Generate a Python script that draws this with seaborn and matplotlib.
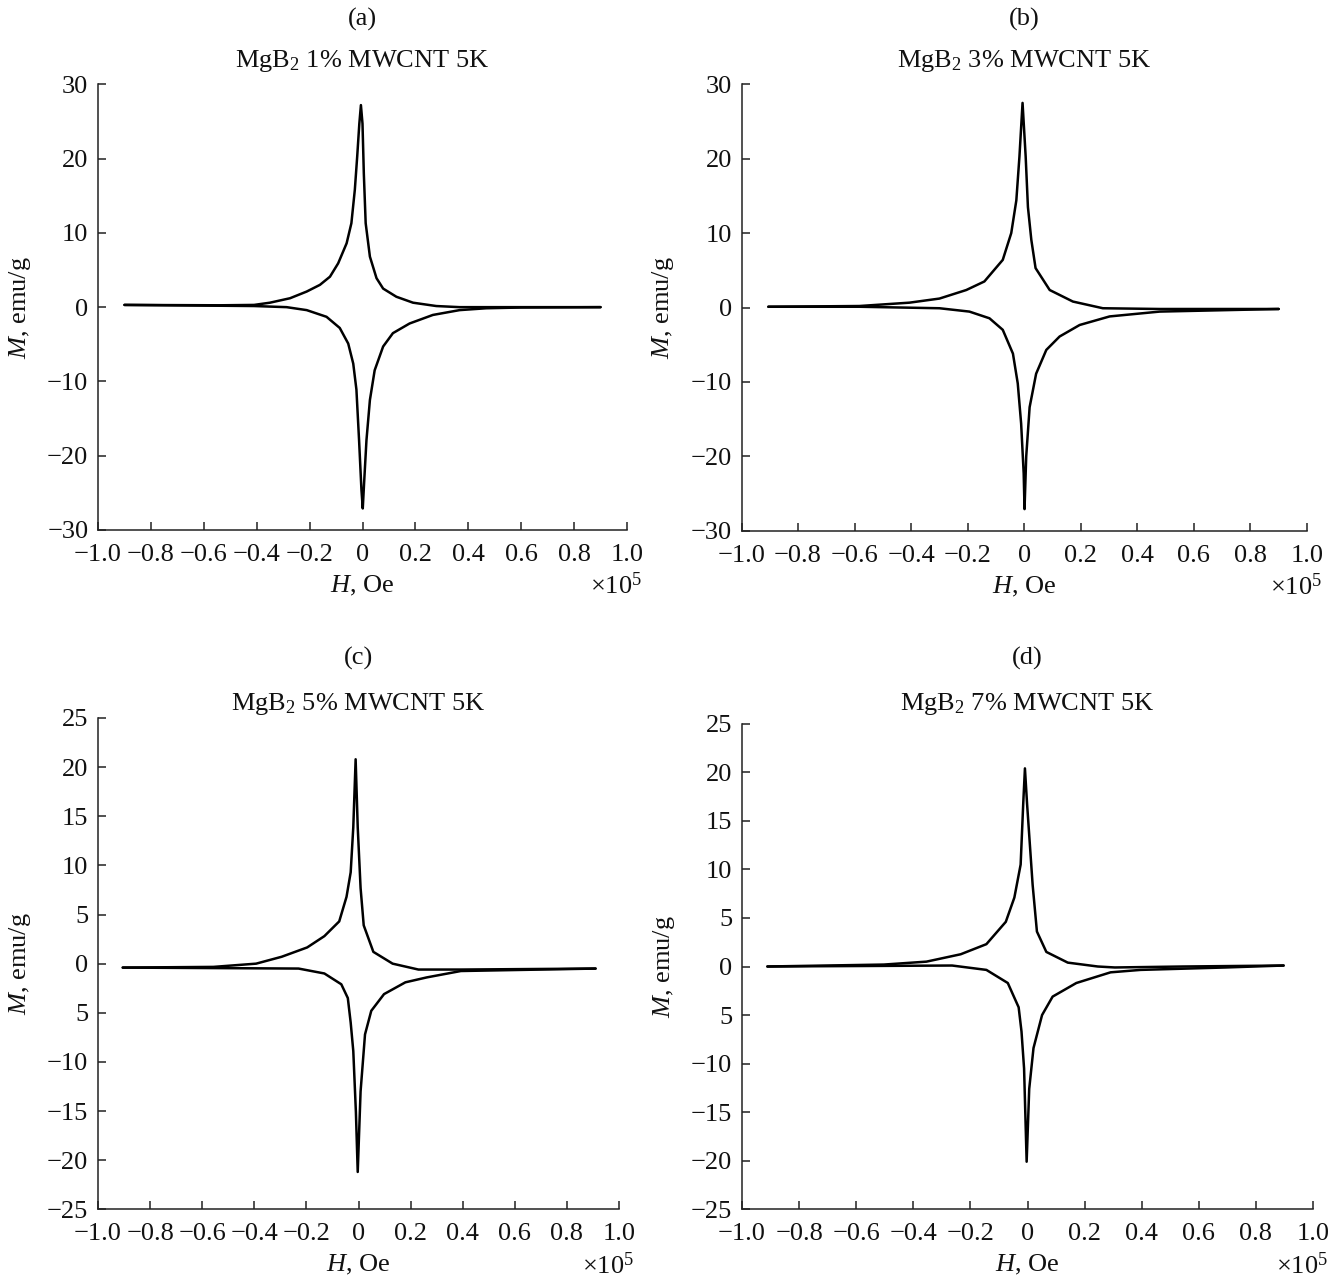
import numpy as np
import pandas as pd
import matplotlib
matplotlib.use("Agg")
import matplotlib.pyplot as plt
import seaborn as sns

# H in units of 1e5 Oe, M in emu/g
# (a) MgB2 1% MWCNT
H_a_up = [-0.90, -0.54, -0.41, -0.35, -0.274, -0.211, -0.161, -0.123, -0.092, -0.060, -0.042,
          -0.029, -0.020, -0.012, -0.006, 0.0, 0.005, 0.012, 0.028, 0.053, 0.078, 0.128,
          0.191, 0.279, 0.367, 0.52, 0.90]
M_a_up = [0.3, 0.25, 0.3, 0.6, 1.2, 2.1, 3.0, 4.1, 5.9, 8.6, 11.3,
          15.8, 20.3, 24.7, 27.2, 24.7, 18.0, 11.3, 6.8, 3.9, 2.5, 1.4,
          0.6, 0.15, 0.0, 0.0, 0.0]
H_a_dn = [0.90, 0.60, 0.468, 0.367, 0.266, 0.178, 0.115, 0.078, 0.046, 0.028, 0.015, 0.006,
          0.001, -0.004, -0.013, -0.023, -0.035, -0.054, -0.086, -0.136, -0.211, -0.287,
          -0.41, -0.90]
M_a_dn = [0.0, -0.05, -0.15, -0.4, -1.05, -2.2, -3.5, -5.3, -8.5, -12.5, -17.9, -23.7,
          -27.1, -24.6, -17.9, -11.1, -7.6, -4.9, -2.8, -1.3, -0.4, 0.0,
          0.15, 0.3]

# (b) MgB2 3% MWCNT
H_b_up = [-0.905, -0.583, -0.406, -0.30, -0.205, -0.141, -0.076, -0.046, -0.028, -0.017,
          -0.006, 0.005, 0.013, 0.025, 0.040, 0.090, 0.172, 0.278, 0.479, 0.90]
M_b_up = [0.1, 0.2, 0.65, 1.2, 2.35, 3.5, 6.4, 10.0, 14.4, 20.3,
          27.5, 20.3, 13.5, 9.1, 5.3, 2.35, 0.8, -0.1, -0.2, -0.2]
H_b_dn = [0.90, 0.479, 0.302, 0.196, 0.125, 0.078, 0.042, 0.019, 0.007, 0.001, -0.002,
          -0.011, -0.023, -0.040, -0.076, -0.123, -0.194, -0.30, -0.583, -0.905]
M_b_dn = [-0.2, -0.55, -1.2, -2.35, -3.9, -5.7, -8.9, -13.4, -20.0, -27.1, -22.3,
          -15.6, -10.2, -6.2, -3.0, -1.45, -0.55, -0.1, 0.1, 0.1]

# (c) MgB2 5% MWCNT
H_c_up = [-0.905, -0.557, -0.393, -0.295, -0.197, -0.131, -0.074, -0.046, -0.030, -0.020,
          -0.011, -0.003, 0.008, 0.020, 0.057, 0.131, 0.23, 0.393, 0.91]
M_c_up = [-0.4, -0.33, 0.0, 0.7, 1.65, 2.8, 4.3, 6.8, 9.3, 13.9,
          20.8, 13.9, 7.7, 3.9, 1.2, 0.0, -0.6, -0.6, -0.5]
H_c_dn = [0.91, 0.393, 0.262, 0.18, 0.098, 0.049, 0.025, 0.008, -0.003, -0.010, -0.020,
          -0.030, -0.041, -0.066, -0.131, -0.23, -0.905]
M_c_dn = [-0.5, -0.75, -1.4, -1.9, -3.1, -4.8, -7.2, -13.0, -21.2, -15.1, -8.9,
          -6.0, -3.5, -2.1, -1.0, -0.5, -0.4]

# (d) MgB2 7% MWCNT
H_d_up = [-0.911, -0.503, -0.354, -0.234, -0.144, -0.076, -0.046, -0.024, -0.015, -0.009,
          -0.0015, 0.018, 0.033, 0.066, 0.141, 0.246, 0.306, 0.545, 0.897]
M_d_up = [0.0, 0.2, 0.5, 1.26, 2.3, 4.6, 7.1, 10.5, 16.75, 20.4,
          16.75, 8.4, 3.6, 1.5, 0.4, 0.0, -0.1, 0.0, 0.1]
H_d_dn = [0.897, 0.695, 0.396, 0.291, 0.171, 0.088, 0.051, 0.021, 0.006, -0.003, -0.012,
          -0.021, -0.031, -0.069, -0.144, -0.264, -0.911]
M_d_dn = [0.1, -0.1, -0.35, -0.6, -1.7, -3.1, -5.0, -8.4, -12.6, -20.1, -10.5,
          -6.7, -4.2, -1.7, -0.35, 0.1, 0.0]

panel_tags = ["(a)", "(b)", "(c)", "(d)"]
panel_titles = ["MgB$_2$ 1% MWCNT 5K", "MgB$_2$ 3% MWCNT 5K",
                "MgB$_2$ 5% MWCNT 5K", "MgB$_2$ 7% MWCNT 5K"]

x_ticks = [-1.0, -0.8, -0.6, -0.4, -0.2, 0.0, 0.2, 0.4, 0.6, 0.8, 1.0]
x_tick_labels = ["\u22121.0", "\u22120.8", "\u22120.6", "\u22120.4", "\u22120.2", "0",
                 "0.2", "0.4", "0.6", "0.8", "1.0"]
y_ticks_top = [-30, -20, -10, 0, 10, 20, 30]
y_labels_top = ["\u221230", "\u221220", "\u221210", "0", "10", "20", "30"]
y_ticks_bot = [-25, -20, -15, -10, -5, 0, 5, 10, 15, 20, 25]
y_labels_bot = ["\u221225", "\u221220", "\u221215", "\u221210", "5", "0", "5", "10", "15", "20", "25"]

sns.set_style("ticks")
plt.rcParams["font.family"] = ["Liberation Serif", "DejaVu Serif"]
plt.rcParams["mathtext.fontset"] = "custom"
plt.rcParams["mathtext.rm"] = "Liberation Serif"
plt.rcParams["mathtext.it"] = "Liberation Serif:italic"
plt.rcParams["axes.unicode_minus"] = True

FW, FH = 1340, 1279
fig = plt.figure(figsize=(FW / 100, FH / 100), dpi=100)

# axes boxes in pixels: left, right, top, bottom
boxes = [(98, 627, 84.3, 530), (741.5, 1307, 84.3, 530.7),
         (98, 619, 718, 1209.3), (742, 1313, 723.7, 1209.3)]
tag_y = [19, 19, 658, 658]
title_y = [61, 61, 704, 704]

curves = [(H_a_up, M_a_up, H_a_dn, M_a_dn), (H_b_up, M_b_up, H_b_dn, M_b_dn),
          (H_c_up, M_c_up, H_c_dn, M_c_dn), (H_d_up, M_d_up, H_d_dn, M_d_dn)]

fs = 19
for i in range(4):
    l, r, t, b = boxes[i]
    w, h = r - l, b - t
    ax = fig.add_axes([l / FW, 1 - b / FH, w / FW, h / FH])
    hu, mu, hd, md = curves[i]
    df = pd.DataFrame({
        "H": hu + hd,
        "M": mu + md,
        "branch": ["up"] * len(hu) + ["down"] * len(hd),
    })
    sns.lineplot(data=df, x="H", y="M", units="branch", estimator=None, sort=False,
                 color="black", linewidth=1.8, solid_joinstyle="round", ax=ax)

    ax.set_xlim(-1.0, 1.0)
    ax.set_xticks(x_ticks)
    ax.set_xticklabels(x_tick_labels)
    if i < 2:
        ax.set_ylim(-30, 30)
        ax.set_yticks(y_ticks_top)
        ax.set_yticklabels(y_labels_top)
    else:
        ax.set_ylim(-25, 25)
        ax.set_yticks(y_ticks_bot)
        ax.set_yticklabels(y_labels_bot)

    ax.tick_params(axis="both", direction="in", length=6, width=1.1, labelsize=fs,
                   color="#222222", labelcolor="#111111")
    ax.tick_params(axis="x", pad=10)
    ax.tick_params(axis="y", pad=7)
    ax.spines["top"].set_visible(False)
    ax.spines["right"].set_visible(False)
    for s in ["left", "bottom"]:
        ax.spines[s].set_linewidth(1.1)
        ax.spines[s].set_color("#222222")

    ax.set_xlabel("$H$, Oe", fontsize=fs, color="#111111")
    ax.xaxis.set_label_coords(0.5, -56 / h)
    ax.xaxis.label.set_verticalalignment("center")
    ax.set_ylabel("$M$, emu/g", fontsize=fs, color="#111111")
    ax.yaxis.set_label_coords(-78 / w, 0.5)
    ax.yaxis.label.set_verticalalignment("center")

    ax.text(1 + 15 / w, -56 / h, "\u00d710$^5$", transform=ax.transAxes,
            ha="right", va="center", fontsize=fs, color="#111111")

    cx = (l + r) / 2 / FW
    fig.text(cx, 1 - tag_y[i] / FH, panel_tags[i], ha="center", va="center",
             fontsize=fs, color="#111111")
    fig.text(cx, 1 - title_y[i] / FH, panel_titles[i], ha="center", va="center",
             fontsize=fs, color="#111111")

fig.savefig("out.png", dpi=100)
